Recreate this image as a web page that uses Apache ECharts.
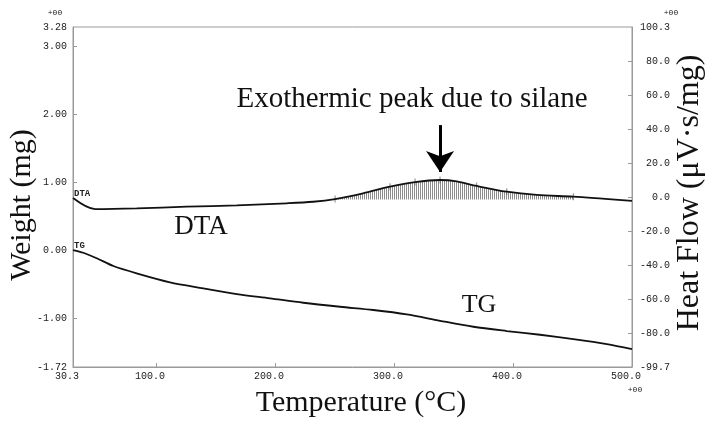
<!DOCTYPE html>
<html><head><meta charset="utf-8">
<script src="https://cdn.jsdelivr.net/npm/echarts@6/dist/echarts.min.js"></script>
<style>html,body{margin:0;padding:0;background:#fff}#c{width:709px;height:430px}</style>
</head><body><div id="c"></div>
<script>
// ---- data ----
const dtaTemp  = [30.3, 48.8, 83.8, 125.8, 167.9, 209.9, 232.0, 250.5, 274.0, 296.7, 317.7, 338.7, 352.7, 369.5, 394.8, 419.9, 450.7, 475.0, 500.0];
const dtaValue = [-0.3, -6.8, -6.4, -5.4, -4.6, -3.4, -2.5, -0.9, 2.5, 6.4, 9.1, 10.3, 9.5, 6.8, 3.4, 1.5, 0.5, -0.7, -2.0];
const tgTemp   = [30.3, 39.0, 50.2, 64.2, 83.8, 111.8, 139.8, 167.9, 195.8, 223.8, 254.7, 282.6, 310.7, 338.7, 366.7, 394.8, 422.7, 450.7, 478.8, 500.0];
const tgValue  = [0.00, -0.04, -0.12, -0.235, -0.343, -0.475, -0.563, -0.647, -0.710, -0.775, -0.834, -0.882, -0.946, -1.040, -1.128, -1.191, -1.246, -1.309, -1.382, -1.456];
const xTicks      = [30.3, 100, 200, 300, 400, 500];
const weightTicks = [-1.72, -1, 0, 1, 2, 3, 3.28];
const heatTicks   = [-99.7, -80, -60, -40, -20, 0, 20, 40, 60, 80, 100.3];
const peakStart = 250, peakEnd = 451;     // integrated exothermic peak range (°C)
const peakBase = -1.2;                    // peak baseline (µV·s/mg)
const peakMarkTemps = [250.5, 296.7, 317.7, 338.7, 369.5, 394.8, 450.7];
const arrowTemp = 338.7, arrowFrom = 42.6, arrowTo = 15;

// ---- build ----
const dtaData = dtaTemp.map((t, i) => [t, dtaValue[i]]);
const tgData = tgTemp.map((t, i) => [t, tgValue[i]]);
const peakData = dtaData.filter(d => d[0] >= peakStart && d[0] <= peakEnd);
const peakMarks = peakMarkTemps.map(t => [t, dtaValue[dtaTemp.indexOf(t)]]);

const pc = document.createElement('canvas'); pc.width = 2; pc.height = 2;
const pctx = pc.getContext('2d');
pctx.fillStyle = '#ffffff'; pctx.fillRect(0, 0, 2, 2);
pctx.fillStyle = '#8c8c8c'; pctx.fillRect(0, 0, 1, 2);

const tickFont = 'Liberation Mono';
const serif = '"Liberation Serif", "DejaVu Serif", serif';
const axisGray = '#9a9a9a';

const chart = echarts.init(document.getElementById('c'), null, {renderer: 'canvas'});
chart.setOption({
  animation: false,
  backgroundColor: '#ffffff',
  grid: {left: 73, right: 77, top: 27, bottom: 63, show: true, borderColor: axisGray, borderWidth: 1},
  xAxis: {
    type: 'value', min: 30.3, max: 500,
    axisLine: {show: true, onZero: false, lineStyle: {color: axisGray}},
    axisTick: {show: true, inside: true, length: 4, customValues: xTicks.slice(1, -1), lineStyle: {color: axisGray}},
    axisLabel: {customValues: xTicks, formatter: v => v.toFixed(1), fontFamily: tickFont, fontSize: 10, color: '#222', margin: 4, padding: [0, 12, 0, 0]},
    splitLine: {show: false}
  },
  yAxis: [{
    type: 'value', min: -1.72, max: 3.28, position: 'left',
    axisLine: {show: true, onZero: false, lineStyle: {color: axisGray}},
    axisTick: {show: true, inside: true, length: 4, customValues: weightTicks.slice(1, -1), lineStyle: {color: axisGray}},
    axisLabel: {customValues: weightTicks, formatter: v => v.toFixed(2), fontFamily: tickFont, fontSize: 10, color: '#222', margin: 6},
    splitLine: {show: false}
  }, {
    type: 'value', min: -99.7, max: 100.3, position: 'right',
    axisLine: {show: true, onZero: false, lineStyle: {color: axisGray}},
    axisTick: {show: true, inside: true, length: 4, customValues: heatTicks.slice(1, -1), lineStyle: {color: axisGray}},
    axisLabel: {customValues: heatTicks, formatter: v => v.toFixed(1), fontFamily: tickFont, fontSize: 10, color: '#222', margin: 38, align: 'right'},
    splitLine: {show: false}
  }],
  series: [{
    name: 'peak', type: 'line', yAxisIndex: 1, data: peakData, smooth: 0.3,
    symbol: 'none', lineStyle: {width: 0}, silent: true,
    areaStyle: {color: {image: pc, repeat: 'repeat'}, opacity: 1, origin: peakBase},
    z: 1
  }, {
    name: 'DTA', type: 'line', yAxisIndex: 1, data: dtaData, smooth: 0.3,
    symbol: 'none', lineStyle: {color: '#111', width: 1.8}, silent: true, z: 3,
    markLine: {
      silent: true, symbol: ['none', 'arrow'], symbolSize: 21,
      lineStyle: {color: '#000', width: 3, type: 'solid'}, label: {show: false},
      data: [[{coord: [arrowTemp, arrowFrom]}, {coord: [arrowTemp, arrowTo]}]]
    }
  }, {
    name: 'marks', type: 'scatter', yAxisIndex: 1, data: peakMarks, symbol: 'rect', symbolSize: [1, 7],
    itemStyle: {color: '#666'}, silent: true, z: 2
  }, {
    name: 'TG', type: 'line', yAxisIndex: 0, data: tgData, smooth: 0.3,
    symbol: 'none', lineStyle: {color: '#111', width: 1.8}, silent: true, z: 3
  }],
  graphic: [
    {type: 'text', x: 55, y: 13, style: {text: '+00', font: '8px ' + tickFont, fill: '#222', align: 'center', verticalAlign: 'middle'}},
    {type: 'text', x: 671, y: 13, style: {text: '+00', font: '8px ' + tickFont, fill: '#222', align: 'center', verticalAlign: 'middle'}},
    {type: 'text', x: 635, y: 390, style: {text: '+00', font: '8px ' + tickFont, fill: '#222', align: 'center', verticalAlign: 'middle'}},
    {type: 'text', x: 74, y: 194, style: {text: 'DTA', font: 'bold 9px ' + tickFont, fill: '#222', align: 'left', verticalAlign: 'middle'}},
    {type: 'text', x: 74, y: 246, style: {text: 'TG', font: 'bold 9px ' + tickFont, fill: '#222', align: 'left', verticalAlign: 'middle'}},
    {type: 'text', x: 201, y: 227, style: {text: 'DTA', font: '27px ' + serif, fill: '#111', align: 'center', verticalAlign: 'middle'}},
    {type: 'text', x: 479, y: 305, style: {text: 'TG', font: '26px ' + serif, fill: '#111', align: 'center', verticalAlign: 'middle'}},
    {type: 'text', x: 412, y: 99, style: {text: 'Exothermic peak due to silane', font: '29px ' + serif, fill: '#111', align: 'center', verticalAlign: 'middle'}},
    {type: 'text', x: 22, y: 205, rotation: Math.PI / 2, style: {text: 'Weight (mg)', font: '30px ' + serif, fill: '#111', align: 'center', verticalAlign: 'middle'}},
    {type: 'text', x: 690, y: 193, rotation: Math.PI / 2, style: {text: 'Heat Flow (μV·s/mg)', font: '32px ' + serif, fill: '#111', align: 'center', verticalAlign: 'middle'}},
    {type: 'text', x: 361, y: 403, style: {text: 'Temperature (°C)', font: '30px ' + serif, fill: '#111', align: 'center', verticalAlign: 'middle'}}
  ]
});
</script></body></html>
